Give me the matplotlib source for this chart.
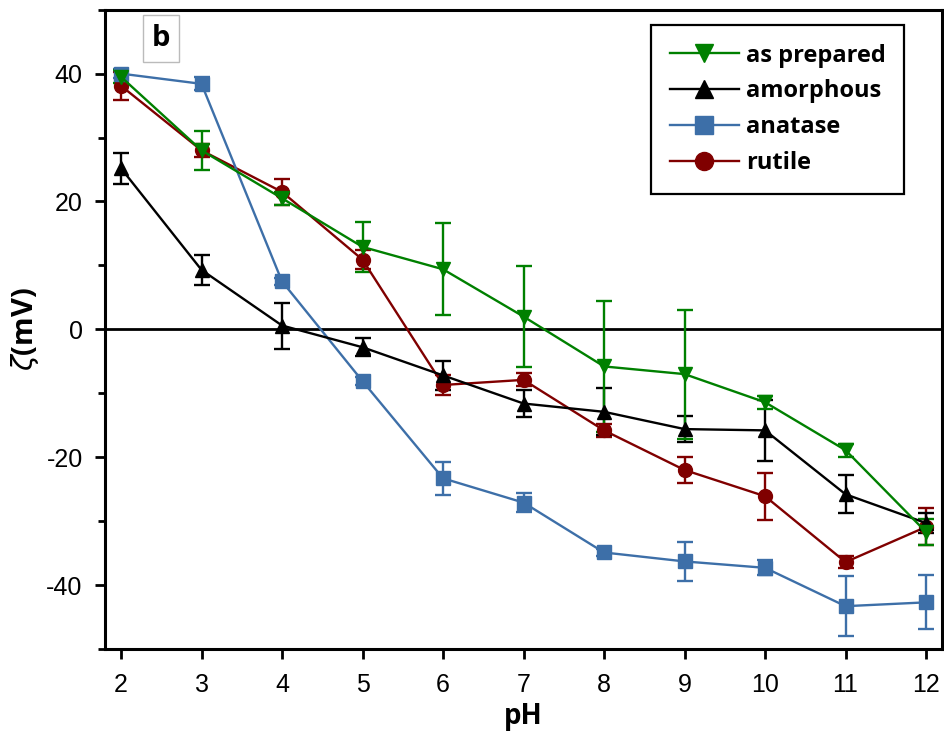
import matplotlib
matplotlib.use("Agg")
import matplotlib.pyplot as plt
from matplotlib.lines import Line2D
from matplotlib.ticker import MultipleLocator

plt.rcParams.update({
    "font.family": ["Liberation Sans", "DejaVu Sans"],
    "axes.unicode_minus": False,
    "axes.linewidth": 2.2,
    "xtick.major.width": 2.0,
    "ytick.major.width": 2.0,
    "ytick.minor.width": 2.0,
    "xtick.major.size": 7,
    "ytick.major.size": 7,
    "ytick.minor.size": 5,
})
BOLD_FAM = ["Open Sans", "DejaVu Sans"]
TICK_FAM = ["Liberation Sans", "DejaVu Sans"]

# ── data ─────────────────────────────────────────────────────────────────────
ph = [2, 3, 4, 5, 6, 7, 8, 9, 10, 11, 12]

as_prepared     = [39.5, 28.0, 20.5, 12.9, 9.4, 2.0, -5.8, -7.0, -11.4, -18.9, -31.7]
as_prepared_err = [1.0, 3.0, 1.0, 3.9, 7.2, 7.9, 10.2, 10.1, 1.0, 1.0, 2.0]

amorphous     = [25.2, 9.3, 0.6, -2.8, -7.2, -11.6, -12.9, -15.6, -15.8, -25.8, -30.3]
amorphous_err = [2.4, 2.3, 3.6, 1.4, 2.3, 2.1, 3.7, 2.0, 4.8, 3.0, 1.5]

anatase     = [40.0, 38.4, 7.5, -8.1, -23.3, -27.1, -34.9, -36.3, -37.3, -43.3, -42.7]
anatase_err = [0.7, 1.0, 0.5, 0.6, 2.6, 1.5, 0.6, 3.0, 1.2, 4.7, 4.2]

rutile     = [38.1, 28.0, 21.5, 10.9, -8.7, -7.9, -15.8, -22.0, -26.1, -36.4, -30.9]
rutile_err = [2.2, 1.0, 2.0, 1.5, 1.5, 1.0, 1.0, 2.1, 3.7, 1.0, 2.9]

series = [
    ("as prepared", as_prepared, as_prepared_err, "#008000", "v"),
    ("amorphous",   amorphous,   amorphous_err,   "#000000", "^"),
    ("anatase",     anatase,     anatase_err,     "#3D6FA8", "s"),
    ("rutile",      rutile,      rutile_err,      "#800000", "o"),
]

# ── figure ───────────────────────────────────────────────────────────────────
fig = plt.figure(figsize=(9.45, 7.46), dpi=100)
ax = fig.add_axes([0.111, 0.130, 0.886, 0.857])

ax.axhline(0, color="black", lw=2.0, zorder=1)

# draw back-to-front so green ends up on top as in the reference
for label, vals, err, col, mk in reversed(series):
    ax.errorbar(ph, vals, yerr=err, color=col, marker=mk, ms=10,
                lw=1.7, elinewidth=1.7, capsize=6, capthick=1.7, zorder=3)

ax.set_xlim(1.8, 12.2)
ax.set_ylim(-50, 50)
ax.xaxis.set_major_locator(MultipleLocator(1))
ax.yaxis.set_major_locator(MultipleLocator(20))
ax.yaxis.set_minor_locator(MultipleLocator(10))
ax.tick_params(axis="both", which="both", direction="out", top=False, right=False)
ax.tick_params(axis="x", pad=10)
ax.tick_params(axis="y", pad=9)
for t in ax.get_xticklabels() + ax.get_yticklabels():
    t.set_fontfamily(TICK_FAM)
    t.set_fontsize(18)

ax.set_xlabel("pH", fontsize=20, fontweight="bold", family=BOLD_FAM, labelpad=4)
ax.set_ylabel(r"$\zeta$(mV)", fontsize=21, fontweight="bold", family=BOLD_FAM, labelpad=4)

handles = [Line2D([], [], color=col, marker=mk, ms=13, lw=1.7, label=label)
           for label, _, _, col, mk in series]
leg = ax.legend(handles=handles, loc="upper right",
                bbox_to_anchor=(0.969, 0.995), frameon=True, fancybox=False,
                edgecolor="black", framealpha=1, handlelength=2.9,
                borderpad=0.8, labelspacing=0.5, handletextpad=0.3,
                prop={"family": BOLD_FAM, "weight": "bold", "size": 17})
leg.get_frame().set_linewidth(1.6)

ax.text(0.067, 0.955, "b", transform=ax.transAxes, fontsize=21, fontweight="bold",
        family=BOLD_FAM, ha="center", va="center",
        bbox=dict(boxstyle="square,pad=0.3", fc="white", ec="#BBBBBB", lw=1.0))

fig.savefig("out.png", dpi=100)
